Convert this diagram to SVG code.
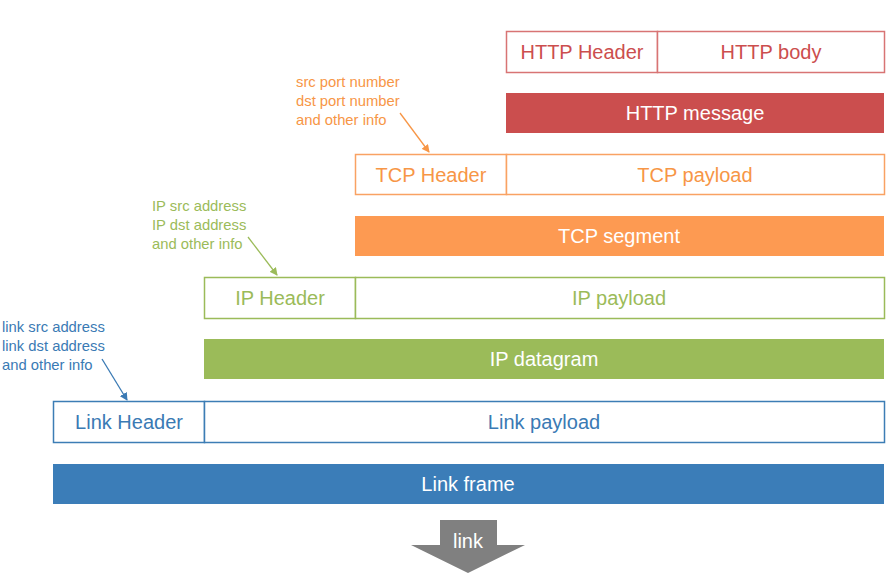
<svg xmlns="http://www.w3.org/2000/svg" width="896" height="581" viewBox="0 0 896 581">
<style>
text{font-family:"Liberation Sans",Arial,sans-serif}
.lbl{font-size:20px;text-anchor:middle}
.ann{font-size:14.8px}
.w{fill:#fff}
.box{fill:#fff;stroke-width:1.5}
.red{stroke:#d87474;fill:#fff}
.redt{fill:#cc4e4e}
.or{stroke:#f9a263;fill:#fff}
.ort{fill:#f79646}
.gr{stroke:#9bbb59;fill:#fff}
.grt{fill:#9bbb59}
.bl{stroke:#3c7db5;fill:#fff}
.blt{fill:#3a7ab4}
</style>
<defs>
<marker id="ao" markerWidth="8" markerHeight="8" refX="7" refY="4" orient="auto" markerUnits="userSpaceOnUse"><path d="M0,0 L8,4 L0,8 z" fill="#f79646"/></marker>
<marker id="ag" markerWidth="8" markerHeight="8" refX="7" refY="4" orient="auto" markerUnits="userSpaceOnUse"><path d="M0,0 L8,4 L0,8 z" fill="#9bbb59"/></marker>
<marker id="ab" markerWidth="8" markerHeight="8" refX="7" refY="4" orient="auto" markerUnits="userSpaceOnUse"><path d="M0,0 L8,4 L0,8 z" fill="#3a7ab4"/></marker>
</defs>

<g id="http-header">
<rect class="box red" x="506.5" y="31.5" width="151" height="41"/>
<text class="lbl redt" x="582" y="59">HTTP Header</text>
</g>
<g id="http-body">
<rect class="box red" x="657.5" y="31.5" width="227" height="41"/>
<text class="lbl redt" x="771" y="59">HTTP body</text>
</g>
<g id="http-message">
<rect x="506" y="93" width="378" height="40" fill="#cb4e4e"/>
<text class="lbl w" x="695" y="120">HTTP message</text>
</g>

<g id="tcp-note">
<text class="ann ort" x="296" y="87">src port number</text>
<text class="ann ort" x="296" y="106">dst port number</text>
<text class="ann ort" x="296" y="125">and other info</text>
</g>
<g id="tcp-header">
<rect class="box or" x="355.5" y="154.5" width="151" height="40"/>
<text class="lbl ort" x="431" y="182">TCP Header</text>
</g>
<g id="tcp-payload">
<rect class="box or" x="506.5" y="154.5" width="378" height="40"/>
<text class="lbl ort" x="695" y="182">TCP payload</text>
</g>
<g id="tcp-segment">
<rect x="355" y="216" width="529" height="40" fill="#fd9a52"/>
<text class="lbl w" x="619" y="243">TCP segment</text>
</g>

<g id="ip-note">
<text class="ann grt" x="152" y="211">IP src address</text>
<text class="ann grt" x="152" y="230">IP dst address</text>
<text class="ann grt" x="152" y="249">and other info</text>
</g>
<g id="ip-header">
<rect class="box gr" x="204.5" y="277.5" width="151" height="41"/>
<text class="lbl grt" x="280" y="305">IP Header</text>
</g>
<g id="ip-payload">
<rect class="box gr" x="355.5" y="277.5" width="529" height="41"/>
<text class="lbl grt" x="619" y="305">IP payload</text>
</g>
<g id="ip-datagram">
<rect x="204" y="339" width="680" height="40" fill="#9bbb59"/>
<text class="lbl w" x="544" y="366">IP datagram</text>
</g>

<g id="link-note">
<text class="ann blt" x="2" y="332">link src address</text>
<text class="ann blt" x="2" y="351">link dst address</text>
<text class="ann blt" x="2" y="370">and other info</text>
</g>
<g id="link-header">
<rect class="box bl" x="53.5" y="401.5" width="151" height="41"/>
<text class="lbl blt" x="129" y="429">Link Header</text>
</g>
<g id="link-payload">
<rect class="box bl" x="204.5" y="401.5" width="680" height="41"/>
<text class="lbl blt" x="544" y="429">Link payload</text>
</g>
<g id="link-frame">
<rect x="53" y="464" width="831" height="40" fill="#3b7db8"/>
<text class="lbl w" x="468" y="491">Link frame</text>
</g>

<g id="link-arrow">
<path d="M440,520 L497,520 L497,545 L525,545 L468,573 L411,545 L440,545 Z" fill="#808080"/>
<text class="lbl w" x="468" y="548">link</text>
</g>

<g id="connectors" fill="none" stroke-width="1.3">
<line x1="400" y1="113" x2="429" y2="152" stroke="#f79646" marker-end="url(#ao)"/>
<line x1="248" y1="237" x2="277" y2="275" stroke="#9bbb59" marker-end="url(#ag)"/>
<line x1="102" y1="359" x2="127" y2="400" stroke="#3a7ab4" marker-end="url(#ab)"/>
</g>
</svg>
